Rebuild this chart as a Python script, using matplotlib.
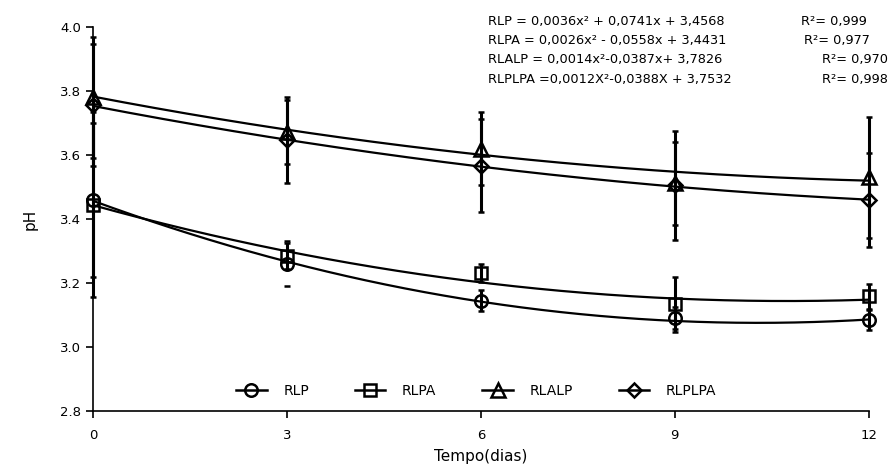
import numpy as np
import matplotlib.pyplot as plt
from matplotlib.lines import Line2D

# pH ao longo do tempo (dias)
days = [0, 3, 6, 9, 12]
names = ['RLP', 'RLPA', 'RLALP', 'RLPLPA']
markers = ['o', 's', '^', 'D']
msizes = [9, 9, 10, 7]

ph_rlp = [3.46, 3.26, 3.145, 3.09, 3.085]
ph_rlpa = [3.445, 3.285, 3.232, 3.133, 3.158]
ph_rlalp = [3.78, 3.672, 3.62, 3.512, 3.53]
ph_rlplpa = [3.756, 3.646, 3.566, 3.505, 3.46]

err_rlp = [0.24, 0.07, 0.032, 0.035, 0.032]
err_rlpa = [0.29, 0.04, 0.028, 0.085, 0.04]
err_rlalp = [0.19, 0.10, 0.115, 0.13, 0.19]
err_rlplpa = [0.19, 0.135, 0.145, 0.17, 0.147]

# coeficientes das regressoes (a, b, c)
fit_rlp = [0.0036, -0.0741, 3.4568]
fit_rlpa = [0.0026, -0.0558, 3.4431]
fit_rlalp = [0.0014, -0.0387, 3.7826]
fit_rlplpa = [0.0012, -0.0388, 3.7532]

equations = ['RLP = 0,0036x² + 0,0741x + 3,4568',
             'RLPA = 0,0026x² - 0,0558x + 3,4431',
             'RLALP = 0,0014x²-0,0387x+ 3,7826',
             'RLPLPA =0,0012X²-0,0388X + 3,7532']
r2_labels = ['R²= 0,999', 'R²= 0,977', 'R²= 0,970', 'R²= 0,998']
r2_right = [867, 870, 888, 888]

values = [ph_rlp, ph_rlpa, ph_rlalp, ph_rlplpa]
errors = [err_rlp, err_rlpa, err_rlalp, err_rlplpa]
fits = [fit_rlp, fit_rlpa, fit_rlalp, fit_rlplpa]

plt.rcParams['font.family'] = ['DejaVu Sans']

fig = plt.figure(figsize=(8.9, 4.7), dpi=100)
ax = fig.add_axes([0.1045, 0.1255, 0.8716, 0.8171])

xs = np.linspace(0, 12, 200)
bars = []
for vals, errs, fit, m, ms in zip(values, errors, fits, markers, msizes):
    ax.plot(xs, np.polyval(fit, xs), color='black', lw=1.6, zorder=2)
    eb = ax.errorbar(days, vals, yerr=errs, fmt=m, ms=ms, mfc='none', mec='black',
                     mew=1.8, ecolor='black', elinewidth=2.2, capsize=2.2,
                     capthick=3, clip_on=False, zorder=3)
    bars.append(eb)

# no original a barra do RLP no dia 3 aparece so com os extremos
bars[0][2][0].set_linewidths([2.2, 0, 2.2, 2.2, 2.2])

ax.set_xlim(0, 12)
ax.set_ylim(2.8, 4.0)
ax.set_xticks(days)
ax.set_yticks(np.arange(2.8, 4.01, 0.2))
ax.set_yticklabels(['%.1f' % v for v in np.arange(2.8, 4.01, 0.2)])
ax.spines['top'].set_visible(False)
ax.spines['right'].set_visible(False)
ax.spines['left'].set_linewidth(1.2)
ax.spines['bottom'].set_linewidth(1.2)
ax.tick_params(direction='out', length=5, width=1.2, labelsize=9.5)
ax.tick_params(axis='x', pad=8)

ax.set_xlabel('Tempo(dias)', fontsize=11, labelpad=5)
ax.set_ylabel('pH', fontsize=11, labelpad=16)

handles = [Line2D([], [], color='black', lw=1.8, marker=m, ms=ms, mfc='none',
                  mec='black', mew=1.8) for m, ms in zip(markers, msizes)]
ax.legend(handles, names, loc='lower center', bbox_to_anchor=(0.494, 0.002),
          ncol=4, frameon=False, fontsize=10, handlelength=2.2,
          handletextpad=1.2, columnspacing=3.3)

for i, (eq, r2, rx) in enumerate(zip(equations, r2_labels, r2_right)):
    y = 1 - (21 + i * 19.5) / 470
    fig.text(488 / 890, y, eq, fontsize=9.3, ha='left', va='center')
    fig.text(rx / 890, y, r2, fontsize=9.3, ha='right', va='center')

fig.savefig('out.png', dpi=100)
